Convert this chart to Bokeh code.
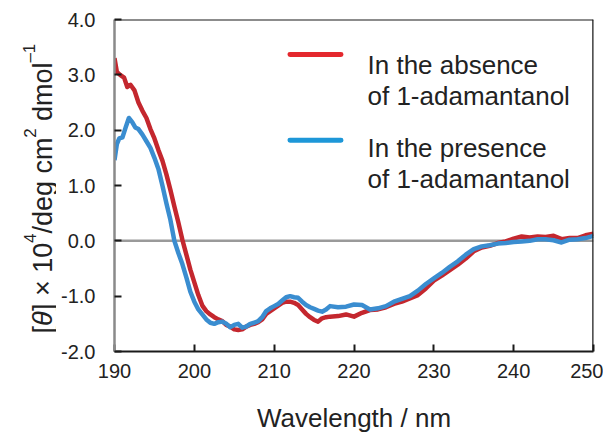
from math import pi
from bokeh.plotting import figure
from bokeh.layouts import row
from bokeh.models import Range1d, Span, Label, BoxAnnotation, FixedTicker
from bokeh.embed import file_html
from bokeh.resources import INLINE

# ---- data ----
wl_absence = [190.0, 190.3, 190.7, 191.2, 191.6, 192.0, 192.5, 193.0, 193.5, 194.0, 194.5, 195.0,
              195.5, 196.0, 196.5, 197.0, 197.5, 198.0, 198.5, 199.0, 199.5, 200.0, 200.5, 201.0,
              201.5, 202.0, 202.5, 203.0, 203.5, 204.0, 204.5, 205.0, 205.5, 206.0, 206.5, 207.0,
              207.5, 208.0, 208.5, 209.0, 209.5, 210.0, 210.5, 211.0, 211.5, 212.0, 212.5, 213.0,
              213.5, 214.0, 214.5, 215.0, 215.5, 216.0, 216.5, 217.0, 218.0, 219.0, 220.0, 221.0,
              222.0, 223.0, 224.0, 225.0, 226.0, 227.0, 228.0, 229.0, 230.0, 231.0, 232.0, 233.0,
              234.0, 235.0, 236.0, 237.0, 238.0, 239.0, 240.0, 241.0, 242.0, 243.0, 244.0, 245.0,
              246.0, 247.0, 248.0, 249.0, 250.0]
theta_absence = [3.30, 3.05, 3.00, 2.95, 2.78, 2.82, 2.72, 2.50, 2.35, 2.22, 2.02, 1.85,
                 1.64, 1.45, 1.20, 0.92, 0.62, 0.33, 0.02, -0.25, -0.52, -0.75, -0.98, -1.17,
                 -1.27, -1.33, -1.38, -1.42, -1.45, -1.52, -1.55, -1.60, -1.61, -1.60, -1.55, -1.52,
                 -1.50, -1.47, -1.42, -1.32, -1.27, -1.22, -1.17, -1.12, -1.10, -1.10, -1.12, -1.16,
                 -1.24, -1.32, -1.38, -1.43, -1.46, -1.40, -1.38, -1.37, -1.36, -1.33, -1.37, -1.30,
                 -1.25, -1.24, -1.20, -1.14, -1.10, -1.04, -0.98, -0.86, -0.72, -0.63, -0.53, -0.43,
                 -0.32, -0.19, -0.12, -0.09, -0.04, -0.01, 0.04, 0.08, 0.06, 0.08, 0.07, 0.09,
                 0.03, 0.05, 0.05, 0.10, 0.13]

wl_presence = [190.0, 190.3, 190.6, 191.0, 191.4, 191.8, 192.2, 192.6, 193.0, 193.5, 194.0, 194.5,
               195.0, 195.5, 196.0, 196.5, 197.0, 197.5, 198.0, 198.5, 199.0, 199.5, 200.0, 200.5,
               201.0, 201.5, 202.0, 202.5, 203.0, 203.5, 204.0, 204.5, 205.0, 205.5, 206.0, 206.5,
               207.0, 207.5, 208.0, 208.5, 209.0, 209.5, 210.0, 210.5, 211.0, 211.5, 212.0, 212.5,
               213.0, 213.5, 214.0, 214.5, 215.0, 215.5, 216.0, 216.5, 217.0, 218.0, 219.0, 220.0,
               221.0, 222.0, 223.0, 224.0, 225.0, 226.0, 227.0, 228.0, 229.0, 230.0, 231.0, 232.0,
               233.0, 234.0, 235.0, 236.0, 237.0, 238.0, 239.0, 240.0, 241.0, 242.0, 243.0, 244.0,
               245.0, 246.0, 247.0, 248.0, 249.0, 250.0]
theta_presence = [1.46, 1.75, 1.85, 1.87, 2.05, 2.22, 2.15, 2.05, 2.02, 1.92, 1.80, 1.68,
                  1.50, 1.30, 1.00, 0.68, 0.38, 0.00, -0.22, -0.42, -0.66, -0.92, -1.10, -1.24,
                  -1.33, -1.42, -1.48, -1.50, -1.47, -1.46, -1.50, -1.56, -1.52, -1.50, -1.57, -1.55,
                  -1.50, -1.48, -1.45, -1.38, -1.27, -1.22, -1.18, -1.14, -1.08, -1.02, -1.00, -1.02,
                  -1.03, -1.10, -1.16, -1.20, -1.23, -1.26, -1.28, -1.24, -1.18, -1.20, -1.19, -1.15,
                  -1.16, -1.24, -1.22, -1.18, -1.10, -1.05, -1.00, -0.90, -0.78, -0.68, -0.58, -0.47,
                  -0.37, -0.25, -0.15, -0.10, -0.08, -0.05, -0.04, -0.02, -0.01, 0.00, 0.03, 0.03,
                  0.01, -0.03, 0.02, 0.03, 0.05, 0.09]

x_ticks = [190, 200, 210, 220, 230, 240, 250]
y_ticks = [-2.0, -1.0, 0.0, 1.0, 2.0, 3.0, 4.0]
y_tick_labels = {-2.0: "-2.0", -1.0: "-1.0", 0.0: "0.0", 1.0: "1.0", 2.0: "2.0", 3.0: "3.0", 4.0: "4.0"}
series_labels = [["In the absence", "of 1-adamantanol"], ["In the presence", "of 1-adamantanol"]]
x_title = "Wavelength / nm"
# y title pieces: (text, superscript?, italic?)
y_title_parts = [("[", False, False), ("θ", False, True), ("] × 10", False, False), ("4", True, False),
                 ("/deg cm", False, False), ("2", True, False), (" dmol", False, False), ("–1", True, False)]

FONT = "Liberation Sans"
TXT = "#222222"
RED = "#c4272e"
BLUE = "#3a8dd0"

X0, X1, Y0, Y1 = 190, 250, -2, 4
H = 435
LW = 56                 # width of the strip that holds the rotated y title
W = 547                 # main figure width
BL, BR, BT, BB = 58, 10, 19, 83   # frame: page x 114..593, y 19..352

p = figure(width=W, height=H, output_backend="svg", toolbar_location=None,
           x_range=Range1d(X0, X1), y_range=Range1d(Y0, Y1),
           min_border_left=BL, min_border_right=BR, min_border_top=BT, min_border_bottom=BB)
p.background_fill_color = "white"
p.border_fill_color = "white"
p.outline_line_color = None
p.xgrid.grid_line_color = None
p.ygrid.grid_line_color = None

# zero line
p.add_layout(Span(location=0, dimension="width", line_color="#9a9a9a", line_width=2.5, level="underlay"))

p.line(wl_absence, theta_absence, line_color=RED, line_width=4.5, line_join="round")
p.line(wl_presence, theta_presence, line_color=BLUE, line_width=4.5, line_join="round")

# frame top and right
p.add_layout(Span(location=Y1, dimension="width", line_color="#1a1a1a", line_width=2))
p.add_layout(Span(location=X1, dimension="height", line_color="#1a1a1a", line_width=2.5))

# axes
xa = p.xaxis[0]
xa.ticker = FixedTicker(ticks=x_ticks)
xa.axis_line_color = "#1a1a1a"
xa.axis_line_width = 2
xa.major_tick_in = 7
xa.major_tick_out = 0
xa.major_tick_line_color = "#1a1a1a"
xa.major_tick_line_width = 2
xa.minor_tick_line_color = None
xa.major_label_text_font = FONT
xa.major_label_text_font_size = "20px"
xa.major_label_text_color = TXT
xa.major_label_standoff = 12
xa.axis_label = x_title
xa.axis_label_text_font = FONT
xa.axis_label_text_font_size = "26px"
xa.axis_label_text_font_style = "normal"
xa.axis_label_text_color = TXT
xa.axis_label_standoff = 22

ya = p.yaxis[0]
ya.ticker = FixedTicker(ticks=y_ticks)
ya.major_label_overrides = y_tick_labels
ya.axis_line_color = "#8a8a8a"
ya.axis_line_width = 2.5
ya.major_tick_in = 7
ya.major_tick_out = 0
ya.major_tick_line_color = "#1a1a1a"
ya.major_tick_line_width = 2
ya.minor_tick_line_color = None
ya.major_label_text_font = FONT
ya.major_label_text_font_size = "20px"
ya.major_label_text_color = TXT
ya.major_label_standoff = 19

# pixel -> data helpers for annotation placement in the main figure (layout only)
frame_left = LW + BL
frame_w = W - BL - BR
frame_h = H - BT - BB
def px_to_x(px):
    return X0 + (px - frame_left) * (X1 - X0) / frame_w
def py_to_y(py):
    return Y1 - (py - BT) * (Y1 - Y0) / frame_h

# legend (manual)
key_colors = ["#e4282e", "#1d97d8"]
key_py = [54, 140]
text_py = [(65, 96), (148, 179)]
for c, kpy, tpys, labs in zip(key_colors, key_py, text_py, series_labels):
    p.add_layout(BoxAnnotation(left=px_to_x(287), right=px_to_x(343),
                               bottom=py_to_y(kpy + 2.5), top=py_to_y(kpy - 2.5),
                               fill_color=c, fill_alpha=1.0, line_color=None, border_radius=3))
    for tpy, s in zip(tpys, labs):
        p.add_layout(Label(x=px_to_x(367), y=py_to_y(tpy), text=s, text_font=FONT,
                           text_font_size="26px", text_color=TXT,
                           text_baseline="alphabetic", text_align="left"))

# strip with the rotated y-axis title; its frame is aligned with the main frame
# (page y 19..352), so its y range is expressed in page pixels measured up from the bottom
t = figure(width=LW, height=H, output_backend="svg", toolbar_location=None,
           x_range=Range1d(0, LW), y_range=Range1d(H - (H - BB), H - BT),
           x_axis_location=None, y_axis_location=None,
           min_border_left=0, min_border_right=0, min_border_top=BT, min_border_bottom=BB)
t.outline_line_color = None
t.xgrid.grid_line_color = None
t.ygrid.grid_line_color = None
t.background_fill_color = "white"
t.border_fill_color = "white"

MAIN, SUP = 27, 17
em = {"[": 0.278, "θ": 0.556, "]": 0.278, " ": 0.278, "×": 0.584, "1": 0.556, "0": 0.556,
      "4": 0.556, "/": 0.278, "d": 0.556, "e": 0.556, "g": 0.556, "c": 0.5, "m": 0.833,
      "2": 0.556, "o": 0.556, "l": 0.222, "–": 0.556}
pos = 334.0  # page px (from top) of the bottom end of the title
for text, sup, ital in y_title_parts:
    size = SUP if sup else MAIN
    bx = 29 if sup else 42
    # SVG collapses leading blanks, so advance over them explicitly
    stripped = text.lstrip(" ")
    pos -= (len(text) - len(stripped)) * em[" "] * size
    t.add_layout(Label(x=bx, y=H - pos, text=stripped, angle=pi / 2,
                       text_font=FONT, text_font_size=f"{size}px",
                       text_font_style="italic" if ital else "normal",
                       text_color=TXT, text_align="left", text_baseline="alphabetic"))
    pos -= sum(em.get(ch, 0.556) for ch in stripped) * size

layout = row(t, p, spacing=0)
open("out.html", "w").write(file_html(layout, INLINE))
